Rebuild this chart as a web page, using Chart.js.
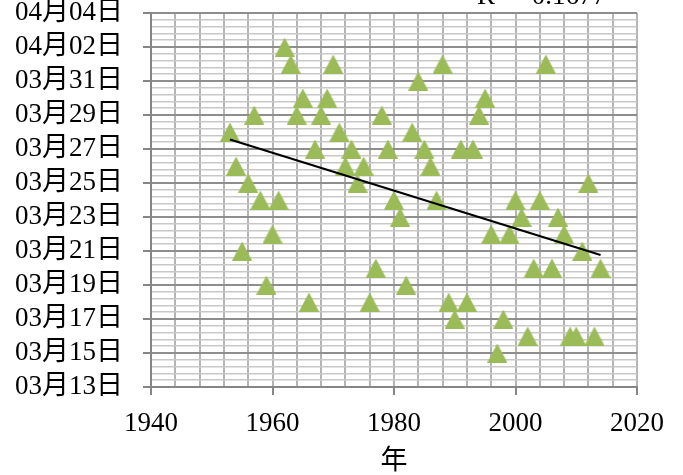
<!DOCTYPE html>
<html>
<head>
<meta charset="utf-8">
<script src="https://cdn.jsdelivr.net/npm/chart.js@4"></script>
<style>
  html, body { margin: 0; padding: 0; background: #ffffff; }
  #wrap { width: 683px; height: 475px; }
</style>
</head>
<body>
<div id="wrap"><canvas id="chart" width="683" height="475"></canvas></div>
<script>
// Year of each observation
const years = [
  1953, 1954, 1955, 1956, 1957, 1958, 1959, 1960, 1961, 1962,
  1963, 1964, 1965, 1966, 1967, 1968, 1969, 1970, 1971, 1972,
  1973, 1974, 1975, 1976, 1977, 1978, 1979, 1980, 1981, 1982,
  1983, 1984, 1985, 1986, 1987, 1988, 1989, 1990, 1991, 1992,
  1993, 1994, 1995, 1996, 1997, 1998, 1999, 2000, 2001, 2002,
  2003, 2004, 2005, 2006, 2007, 2008, 2009, 2010, 2011, 2012,
  2013, 2014
];

// Date of each observation, counted in days from 1 March (04月01日 = 32)
const dayOfMarch = [
  28, 26, 21, 25, 29, 24, 19, 22, 24, 33,
  32, 29, 30, 18, 27, 29, 30, 32, 28, 26,
  27, 25, 26, 18, 20, 29, 27, 24, 23, 19,
  28, 31, 27, 26, 24, 32, 18, 17, 27, 18,
  27, 29, 30, 22, 15, 17, 22, 24, 23, 16,
  20, 24, 32, 20, 23, 22, 16, 16, 21, 25,
  16, 20
];

// Axis tick labels (major ticks only)
const xTickLabels = ['1940', '1960', '1980', '2000', '2020'];
const yTickLabels = [
  '03月13日', '03月15日', '03月17日', '03月19日', '03月21日', '03月23日',
  '03月25日', '03月27日', '03月29日', '03月31日', '04月02日', '04月04日'
];

const xAxisTitle = '年';

// Axis ranges: major unit and minor unit (one fifth of the major)
const X_MIN = 1940, X_MAX = 2020, X_MAJOR = 20, X_MINOR = 4;
const Y_MIN = 13, Y_MAX = 35, Y_MAJOR = 2, Y_MINOR = 0.4;

const SERIF = "'Liberation Serif', 'Noto Sans CJK JP', serif";
const MARKER_GREEN = '#9BBB59';

// Least-squares linear trend
function linearFit(xs, ys) {
  const n = xs.length;
  const mx = xs.reduce((a, b) => a + b, 0) / n;
  const my = ys.reduce((a, b) => a + b, 0) / n;
  let sxy = 0, sxx = 0, syy = 0;
  for (let i = 0; i < n; i++) {
    sxy += (xs[i] - mx) * (ys[i] - my);
    sxx += (xs[i] - mx) ** 2;
    syy += (ys[i] - my) ** 2;
  }
  const slope = sxy / sxx;
  return { slope, intercept: my - slope * mx, r2: (sxy * sxy) / (sxx * syy) };
}
const fit = linearFit(years, dayOfMarch);
const firstYear = years[0], lastYear = years[years.length - 1];

// Triangle marker drawn once on a small canvas
function makeTriangle(w, h, color) {
  const c = document.createElement('canvas');
  c.width = w; c.height = h;
  const g = c.getContext('2d');
  g.fillStyle = color;
  g.beginPath();
  g.moveTo(w / 2, 0);
  g.lineTo(w, h);
  g.lineTo(0, h);
  g.closePath();
  g.fill();
  return c;
}
const triangle = makeTriangle(20, 19, MARKER_GREEN);

function tickValues(min, max, step) {
  const out = [];
  const n = Math.round((max - min) / step);
  for (let i = 0; i <= n; i++) out.push({ value: Math.round((min + i * step) * 1000) / 1000 });
  return out;
}
function majorIndex(v, min, major) {
  const k = (v - min) / major;
  return Math.abs(k - Math.round(k)) < 1e-6 ? Math.round(k) : -1;
}

// Coefficient of determination label next to the trend line
const trendLabel = {
  id: 'trendLabel',
  afterDraw(chart) {
    const ctx = chart.ctx;
    ctx.save();
    ctx.font = '27px ' + SERIF;
    ctx.fillStyle = '#000';
    ctx.textAlign = 'left';
    ctx.textBaseline = 'alphabetic';
    ctx.fillText('R² = ' + fit.r2.toFixed(4), 477, 4);
    ctx.restore();
  }
};

new Chart(document.getElementById('chart'), {
  type: 'scatter',
  data: {
    datasets: [
      {
        type: 'line',
        order: 0,
        data: [
          { x: firstYear, y: fit.intercept + fit.slope * firstYear },
          { x: lastYear, y: fit.intercept + fit.slope * lastYear }
        ],
        borderColor: '#000000',
        borderWidth: 2,
        pointRadius: 0,
        fill: false
      },
      {
        order: 1,
        data: years.map((yr, i) => ({ x: yr, y: dayOfMarch[i] })),
        pointStyle: triangle,
        pointRadius: 10,
        showLine: false
      }
    ]
  },
  options: {
    responsive: false,
    animation: false,
    events: [],
    devicePixelRatio: 1,
    layout: { padding: { left: 0, top: 13, right: 46, bottom: 0 } },
    plugins: { legend: { display: false }, tooltip: { enabled: false } },
    scales: {
      x: {
        type: 'linear',
        min: X_MIN,
        max: X_MAX,
        afterBuildTicks: s => { s.ticks = tickValues(X_MIN, X_MAX, X_MINOR); },
        afterFit: s => { s.height = 88; s.paddingLeft = 0; s.paddingRight = 0; },
        ticks: {
          autoSkip: false,
          maxRotation: 0,
          padding: 13,
          color: '#000',
          font: { family: SERIF, size: 27 },
          callback: v => { const k = majorIndex(v, X_MIN, X_MAJOR); return k >= 0 ? xTickLabels[k] : ''; }
        },
        grid: {
          color: '#b4b4b4',
          lineWidth: 2,
          tickLength: 8,
          tickColor: c => (c.tick && majorIndex(c.tick.value, X_MIN, X_MAJOR) >= 0) ? '#868686' : 'rgba(0,0,0,0)',
          tickWidth: 2
        },
        border: { color: '#868686', width: 2 },
        title: {
          display: true,
          text: xAxisTitle,
          color: '#000',
          font: { family: SERIF, size: 27, lineHeight: 1.0 },
          padding: { top: 0, bottom: 0 }
        }
      },
      y: {
        type: 'linear',
        min: Y_MIN,
        max: Y_MAX,
        afterBuildTicks: s => { s.ticks = tickValues(Y_MIN, Y_MAX, Y_MINOR); },
        afterFit: s => { s.width = 151; s.paddingTop = 0; s.paddingBottom = 0; },
        ticks: {
          autoSkip: false,
          padding: 20,
          color: '#000',
          font: { family: SERIF, size: 27 },
          callback: v => { const k = majorIndex(v, Y_MIN, Y_MAJOR); return k >= 0 ? yTickLabels[k] : ''; }
        },
        grid: {
          color: c => (c.tick && majorIndex(c.tick.value, Y_MIN, Y_MAJOR) >= 0) ? '#8e8e8e' : '#c8c8c8',
          lineWidth: c => (c.tick && majorIndex(c.tick.value, Y_MIN, Y_MAJOR) >= 0) ? 2 : 1.5,
          tickLength: 8,
          tickColor: c => (c.tick && majorIndex(c.tick.value, Y_MIN, Y_MAJOR) >= 0) ? '#868686' : 'rgba(0,0,0,0)',
          tickWidth: 2
        },
        border: { color: '#868686', width: 2 }
      }
    }
  },
  plugins: [trendLabel]
});
</script>
</body>
</html>
